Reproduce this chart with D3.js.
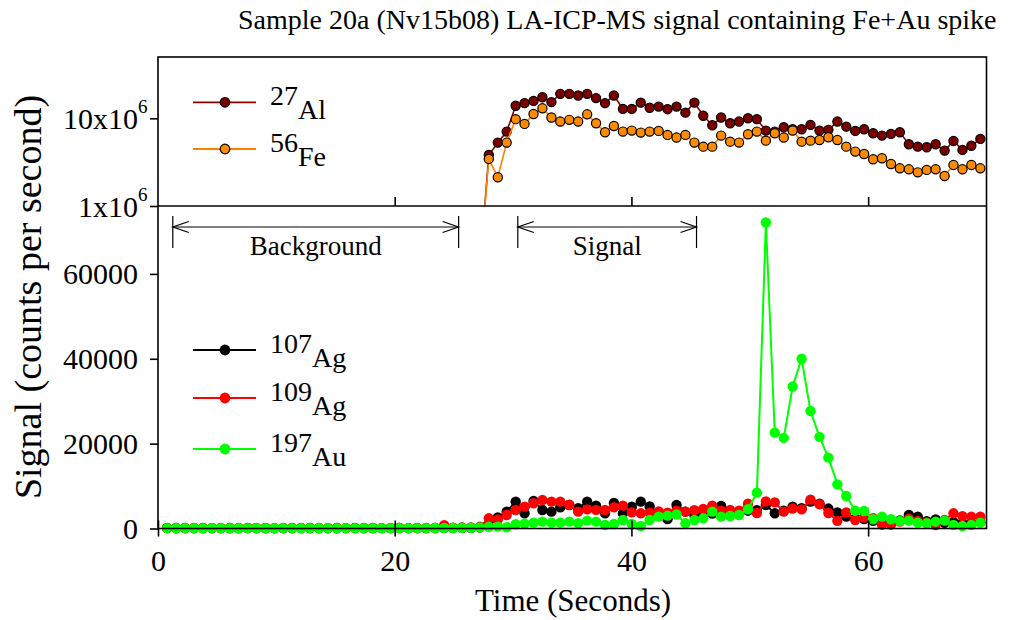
<!DOCTYPE html>
<html><head><meta charset="utf-8">
<script src="https://cdn.jsdelivr.net/npm/d3@7"></script>
<style>
body{margin:0;background:#fff}
svg{display:block}
text{font-family:"Liberation Serif","Times New Roman",serif;fill:#000}
</style>
</head><body>
<svg id="chart" width="1010" height="620"></svg>
<script>
// ---------- data ----------
const time = [0.77,1.53,2.28,3.04,3.79,4.55,5.30,6.06,6.81,7.57,8.32,9.08,9.83,10.59,11.34,12.10,12.85,13.61,14.36,15.12,
  15.87,16.63,17.38,18.14,18.89,19.65,20.40,21.16,21.91,22.67,23.42,24.18,24.93,25.69,26.44,27.20,27.95,28.71,29.46,30.22,
  30.97,31.73,32.48,33.24,33.99,34.75,35.50,36.26,37.01,37.77,38.52,39.28,40.03,40.79,41.54,42.30,43.05,43.81,44.56,45.32,
  46.07,46.83,47.58,48.34,49.09,49.85,50.60,51.36,52.11,52.87,53.62,54.38,55.13,55.89,56.64,57.40,58.15,58.91,59.66,60.42,
  61.17,61.93,62.68,63.44,64.19,64.95,65.70,66.46,67.21,67.97,68.72,69.48];

// top panel (log) series start at time index 35
const topStartIndex = 35;
const al27 = [2.0e5,
  3.82e6,5.28e6,7.05e6,1.39e7,1.49e7,1.58e7,1.74e7,1.53e7,1.90e7,1.90e7,1.82e7,1.90e7,1.70e7,1.49e7,1.82e7,1.28e7,1.28e7,1.51e7,
  1.32e7,1.36e7,1.27e7,1.36e7,1.16e7,1.51e7,1.07e7,8.34e6,1.02e7,8.79e6,9.18e6,1.00e7,9.78e6,7.24e6,7.05e6,7.91e6,7.51e6,7.51e6,8.41e6,
  7.24e6,7.38e6,9.18e6,8.04e6,7.18e6,7.51e6,6.76e6,6.35e6,6.64e6,6.93e6,5.06e6,4.75e6,4.68e6,5.06e6,4.28e6,5.52e6,4.36e6,4.87e6,5.82e6];
const fe56 = [2.0e5,
  3.44e6,2.13e6,5.28e6,9.78e6,8.63e6,1.12e7,1.30e7,1.02e7,9.18e6,9.60e6,9.18e6,1.11e7,8.79e6,6.93e6,8.18e6,7.05e6,7.24e6,6.87e6,
  7.05e6,7.18e6,6.47e6,6.03e6,6.47e6,5.28e6,4.75e6,4.75e6,6.35e6,5.42e6,5.28e6,6.58e6,7.05e6,5.56e6,6.76e6,6.03e6,7.24e6,5.42e6,5.56e6,
  5.66e6,6.08e6,5.66e6,4.75e6,4.17e6,3.92e6,3.41e6,3.50e6,3.01e6,2.69e6,2.62e6,2.42e6,2.58e6,2.62e6,2.20e6,2.94e6,2.62e6,2.94e6,2.69e6];

// bottom panel (linear) series, one value per time point
const ag107 = [120,90,110,100,130,80,100,120,90,110,100,130,90,100,120,80,110,100,90,120,
  100,110,90,130,100,80,120,100,110,90,130,150,140,160,180,250,600,2630,3970,6330,
  3580,6500,4360,3970,5000,5540,4760,6330,5400,3580,6000,3580,5150,6330,5200,3580,2200,5540,3970,3180,
  3580,3500,5310,4000,3800,4200,4300,5540,3580,4200,5150,4760,6330,5860,4700,3800,2790,2400,2200,1800,
  2000,1500,1900,3180,2790,1700,2160,1340,1500,1300,1200,1500];
const ag109 = [100,120,90,110,80,100,130,90,110,100,120,80,100,110,90,130,100,120,90,110,
  100,80,120,100,90,110,130,100,90,120,110,800,200,220,250,400,2400,2160,3180,4360,
  5150,5940,6700,6330,6330,5600,3970,4500,4400,4360,5000,5400,3800,3580,3700,4000,3750,4200,3970,4300,
  4600,5400,4210,4400,4210,5850,3650,6400,6150,3970,4700,4500,6800,5700,3650,1800,3800,2000,2600,2400,
  900,900,1610,2300,1750,1450,830,2000,3580,2900,2790,2790];
const au197 = [80,60,90,70,50,80,100,60,70,90,80,60,70,100,80,60,90,70,80,60,
  90,100,70,80,60,90,80,70,100,90,120,150,130,160,180,250,400,450,300,990,
  1140,1380,1610,1380,1380,1610,1220,1850,1610,830,1060,2000,1060,590,2000,2790,3030,3340,1220,2000,
  2400,3970,2790,2950,3180,4520,8450,72100,22600,21350,33450,40000,27700,21600,16700,10400,7670,4200,4130,2170,
  2790,2170,1770,1850,1380,1220,1610,1850,830,590,830,1380];

const xTicks = [0, 20, 40, 60];
const bottomTicks = [0, 20000, 40000, 60000];
const topTicks = [1e6, 1e7];
const topTickBase = ["1x10", "10x10"];
const topTickExp = ["6", "6"];
const backgroundRange = [1.25, 25.4];
const signalRange = [30.4, 45.5];

const topSeries = [
  {iso: "27", el: "Al", values: al27, line: "#8b0000", fill: "#7a0000"},
  {iso: "56", el: "Fe", values: fe56, line: "#ff8000", fill: "#ff8c00"}
];
const bottomSeries = [
  {iso: "107", el: "Ag", values: ag107, color: "#000000"},
  {iso: "109", el: "Ag", values: ag109, color: "#ff0000"},
  {iso: "197", el: "Au", values: au197, color: "#00ff00"}
];

// ---------- layout ----------
const L = 158, R = 986.5, T = 57, M = 206, B = 528.5;
const svg = d3.select("#chart");
const x = d3.scaleLinear().domain([0, 70]).range([L, R]);
const yTop = d3.scaleLog().domain([1e6, 5e7]).range([M, T]);
const yBot = d3.scaleLinear().domain([0, 76000]).range([B, M]);

svg.append("defs").append("clipPath").attr("id", "clipTop")
  .append("rect").attr("x", L).attr("y", T - 10).attr("width", R - L).attr("height", M - T + 10);

// title
svg.append("text").attr("x", 238).attr("y", 29).attr("font-size", 28)
  .text("Sample 20a (Nv15b08) LA-ICP-MS signal containing Fe+Au spike");

// axis labels
svg.append("text").attr("x", 573).attr("y", 611).attr("font-size", 31).attr("text-anchor", "middle")
  .text("Time (Seconds)");
svg.append("text").attr("transform", "translate(41,297) rotate(-90)").attr("font-size", 38)
  .attr("text-anchor", "middle").text("Signal (counts per second)");

// ---------- top panel ----------
const topTime = time.slice(topStartIndex);
const gTop = svg.append("g").attr("clip-path", "url(#clipTop)");
topSeries.forEach(s => {
  const line = d3.line().x((d, i) => x(topTime[i])).y(d => yTop(d));
  gTop.append("path").datum(s.values).attr("d", line)
    .attr("fill", "none").attr("stroke", s.line).attr("stroke-width", 1.6);
  gTop.selectAll(null).data(s.values).join("circle")
    .attr("cx", (d, i) => x(topTime[i])).attr("cy", d => yTop(d)).attr("r", 4.6)
    .attr("fill", s.fill).attr("stroke", "#000").attr("stroke-width", 1.2);
});

// ---------- bottom panel ----------
const gBot = svg.append("g");
bottomSeries.forEach(s => {
  const line = d3.line().x((d, i) => x(time[i])).y(d => yBot(d));
  gBot.append("path").datum(s.values).attr("d", line)
    .attr("fill", "none").attr("stroke", s.color).attr("stroke-width", 2);
  gBot.selectAll(null).data(s.values).join("circle")
    .attr("cx", (d, i) => x(time[i])).attr("cy", d => yBot(d)).attr("r", 5.2)
    .attr("fill", s.color);
});

// ---------- frame & axes ----------
const frame = svg.append("g").attr("fill", "none").attr("stroke", "#000").attr("stroke-width", 1.6);
frame.append("rect").attr("x", L).attr("y", T).attr("width", R - L).attr("height", B - T);
frame.append("line").attr("x1", L).attr("x2", R).attr("y1", M).attr("y2", M);

function styleAxis(g) {
  g.select(".domain").remove();
  g.selectAll(".tick line").attr("stroke", "#000").attr("stroke-width", 1.6);
  g.selectAll(".tick text").attr("font-family", "Liberation Serif, Times New Roman, serif").attr("font-size", 30).attr("fill", "#000");
}

// top x ticks (inward, pointing up)
svg.append("g").attr("transform", `translate(0,${M})`)
  .call(d3.axisTop(x).tickValues(xTicks.slice(1)).tickSize(9).tickFormat(""))
  .call(styleAxis);

// bottom x axis
const gx = svg.append("g").attr("transform", `translate(0,${B})`)
  .call(d3.axisBottom(x).tickValues(xTicks).tickSize(8).tickPadding(13).tickFormat(d3.format("d")))
  .call(styleAxis);
gx.selectAll(".tick").append("line").attr("y2", -8).attr("stroke", "#000").attr("stroke-width", 1.6);

// bottom y axis
svg.append("g").attr("transform", `translate(${L},0)`)
  .call(d3.axisLeft(yBot).tickValues(bottomTicks).tickSize(8).tickPadding(12).tickFormat(d3.format("d")))
  .call(styleAxis);

// top y axis (log)
const gyTop = svg.append("g").attr("transform", `translate(${L},0)`)
  .call(d3.axisLeft(yTop).tickValues(topTicks).tickSize(8).tickFormat(""))
  .call(styleAxis);
gyTop.selectAll(".tick").each(function(d, i) {
  const t = d3.select(this);
  t.append("text").attr("x", -20).attr("dy", "0.35em").attr("text-anchor", "end")
    .attr("font-size", 30).attr("fill", "#000").text(topTickBase[i]);
  t.append("text").attr("x", -20).attr("y", -6).attr("text-anchor", "start")
    .attr("font-size", 19).attr("fill", "#000").text(topTickExp[i]);
});

// ---------- annotations ----------
function rangeArrow(range, label) {
  const g = svg.append("g").attr("stroke", "#000").attr("stroke-width", 1.2).attr("fill", "none");
  const x1 = x(range[0]), x2 = x(range[1]), yA = 227;
  g.append("line").attr("x1", x1).attr("x2", x1).attr("y1", 216).attr("y2", 248);
  g.append("line").attr("x1", x2).attr("x2", x2).attr("y1", 216).attr("y2", 248);
  g.append("line").attr("x1", x1).attr("x2", x2).attr("y1", yA).attr("y2", yA);
  g.append("path").attr("d", `M${x1 + 16},${yA - 5.5}L${x1},${yA}L${x1 + 16},${yA + 5.5}`);
  g.append("path").attr("d", `M${x2 - 16},${yA - 5.5}L${x2},${yA}L${x2 - 16},${yA + 5.5}`);
  svg.append("text").attr("x", (x1 + x2) / 2).attr("y", 255).attr("font-size", 27)
    .attr("text-anchor", "middle").text(label);
}
rangeArrow(backgroundRange, "Background");
rangeArrow(signalRange, "Signal");

// ---------- legends ----------
function legendItem(cy, lineColor, fill, stroke, r, iso, el) {
  svg.append("line").attr("x1", 193).attr("x2", 256).attr("y1", cy).attr("y2", cy)
    .attr("stroke", lineColor).attr("stroke-width", 1.8);
  const c = svg.append("circle").attr("cx", 225).attr("cy", cy).attr("r", r).attr("fill", fill);
  if (stroke) c.attr("stroke", stroke).attr("stroke-width", 1.2);
  const t = svg.append("text").attr("x", 270).attr("y", cy + 3).attr("font-size", 28);
  t.append("tspan").text(iso);
  t.append("tspan").attr("dy", 14).text(el);
}
legendItem(102.3, topSeries[0].line, topSeries[0].fill, "#000", 4.8, topSeries[0].iso, topSeries[0].el);
legendItem(149, topSeries[1].line, topSeries[1].fill, "#000", 4.8, topSeries[1].iso, topSeries[1].el);
const botLegY = [350, 398, 449];
bottomSeries.forEach((s, i) => legendItem(botLegY[i], s.color, s.color, null, 5.4, s.iso, s.el));
</script>
</body></html>
